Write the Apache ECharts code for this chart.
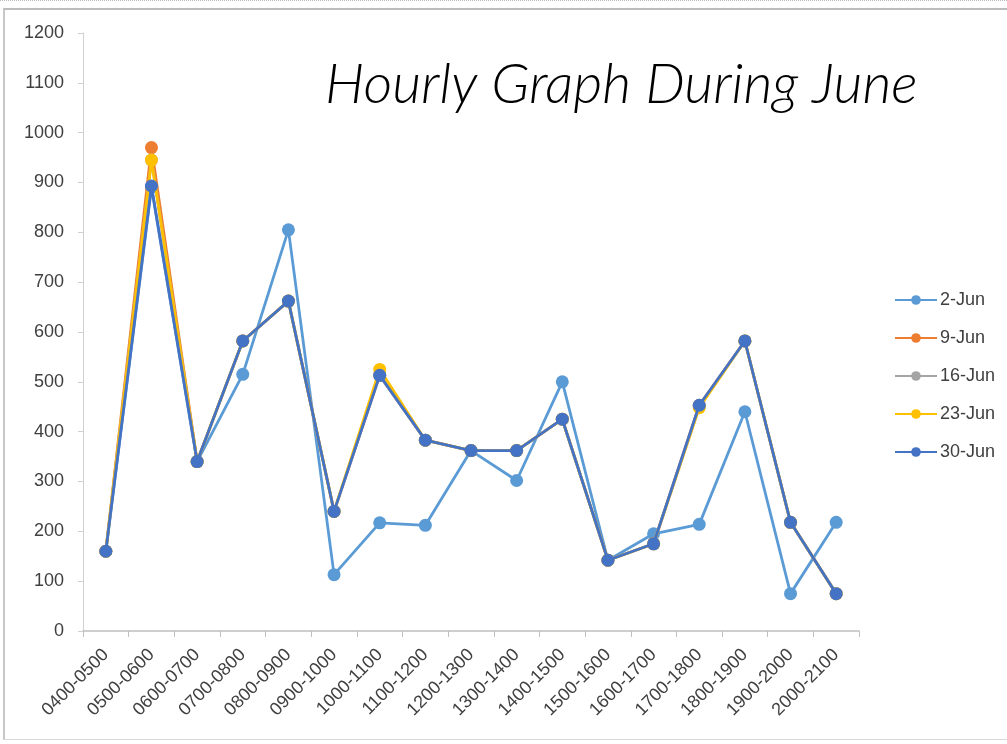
<!DOCTYPE html>
<html><head><meta charset="utf-8">
<script src="https://cdn.jsdelivr.net/npm/echarts@6/dist/echarts.min.js"></script>
<style>
html,body{margin:0;padding:0;background:#fff;}
#frame{position:absolute;left:3px;top:8px;width:1010px;height:732px;border-left:2px solid #c8c8c8;border-top:2px solid #bcbcbc;border-bottom:1px solid #d8d8d8;box-sizing:border-box;}
#dots{position:absolute;left:0;top:0;width:1007px;height:0;border-top:1px dotted #bbb;}
#c{position:absolute;left:0;top:0;width:1007px;height:744px;}
</style></head>
<body>
<div id="dots"></div><div id="frame"></div>
<div id="c"></div>
<script>
const categories = ['0400-0500','0500-0600','0600-0700','0700-0800','0800-0900','0900-1000','1000-1100','1100-1200','1200-1300','1300-1400','1400-1500','1500-1600','1600-1700','1700-1800','1800-1900','1900-2000','2000-2100'];
const jun2  = [160, 890, 340, 515, 805, 113, 217, 212, 362, 302, 500, 142, 195, 214, 440, 75, 218];
const jun9  = [160, 970, 340, 582, 662, 240, 513, 383, 362, 362, 425, 142, 175, 453, 582, 218, 75];
const jun16 = [160, 945, 340, 582, 662, 240, 513, 383, 362, 362, 425, 142, 175, 450, 582, 218, 75];
const jun23 = [160, 945, 340, 582, 662, 240, 525, 383, 362, 362, 425, 142, 175, 448, 582, 218, 75];
const jun30 = [160, 893, 340, 582, 662, 240, 513, 383, 362, 362, 425, 142, 175, 453, 582, 218, 75];
const seriesNames = ['2-Jun','9-Jun','16-Jun','23-Jun','30-Jun'];
const seriesData = [jun2, jun9, jun16, jun23, jun30];
const colors = ['#5B9BD5','#ED7D31','#A5A5A5','#FFC000','#4472C4'];

const chart = echarts.init(document.getElementById('c'));
chart.setOption({
  animation:false,
  color: colors,
  title:{text:'Hourly Graph During June', left:320, top:52,
    textStyle:{fontFamily:'Lato', fontStyle:'italic', fontWeight:300, fontSize:56, color:'#000'}},
  legend:{orient:'vertical', left:889, top:286, itemGap:20, itemWidth:42, itemHeight:12,
    textStyle:{fontFamily:'Liberation Sans', fontSize:18, color:'#404040', padding:[0,0,0,-2]},
    data: seriesNames},
  grid:{left:83, right:148, top:33, bottom:113},
  xAxis:{type:'category', data:categories, boundaryGap:true,
    axisLine:{lineStyle:{color:'#bfbfbf', width:1.5}},
    axisTick:{show:true, length:6, lineStyle:{color:'#bfbfbf'}},
    axisLabel:{rotate:45, interval:0, fontFamily:'Liberation Sans', fontSize:18, color:'#404040', margin:21}},
  yAxis:{type:'value', min:0, max:1200, interval:100,
    axisLine:{show:true, lineStyle:{color:'#d0d0d0'}},
    axisTick:{show:true, length:5, lineStyle:{color:'#d0d0d0'}},
    splitLine:{show:false},
    axisLabel:{fontFamily:'Liberation Sans', fontSize:18, color:'#404040', margin:19, formatter:(v)=>String(v)}},
  series: seriesNames.map((n,i)=>({
    name:n, type:'line', data:seriesData[i], symbol:'circle', symbolSize:13,
    z: 2+i,
    lineStyle:{width:2.8, color:colors[i]}, itemStyle:{color:colors[i]}
  }))
});
</script>
</body></html>
